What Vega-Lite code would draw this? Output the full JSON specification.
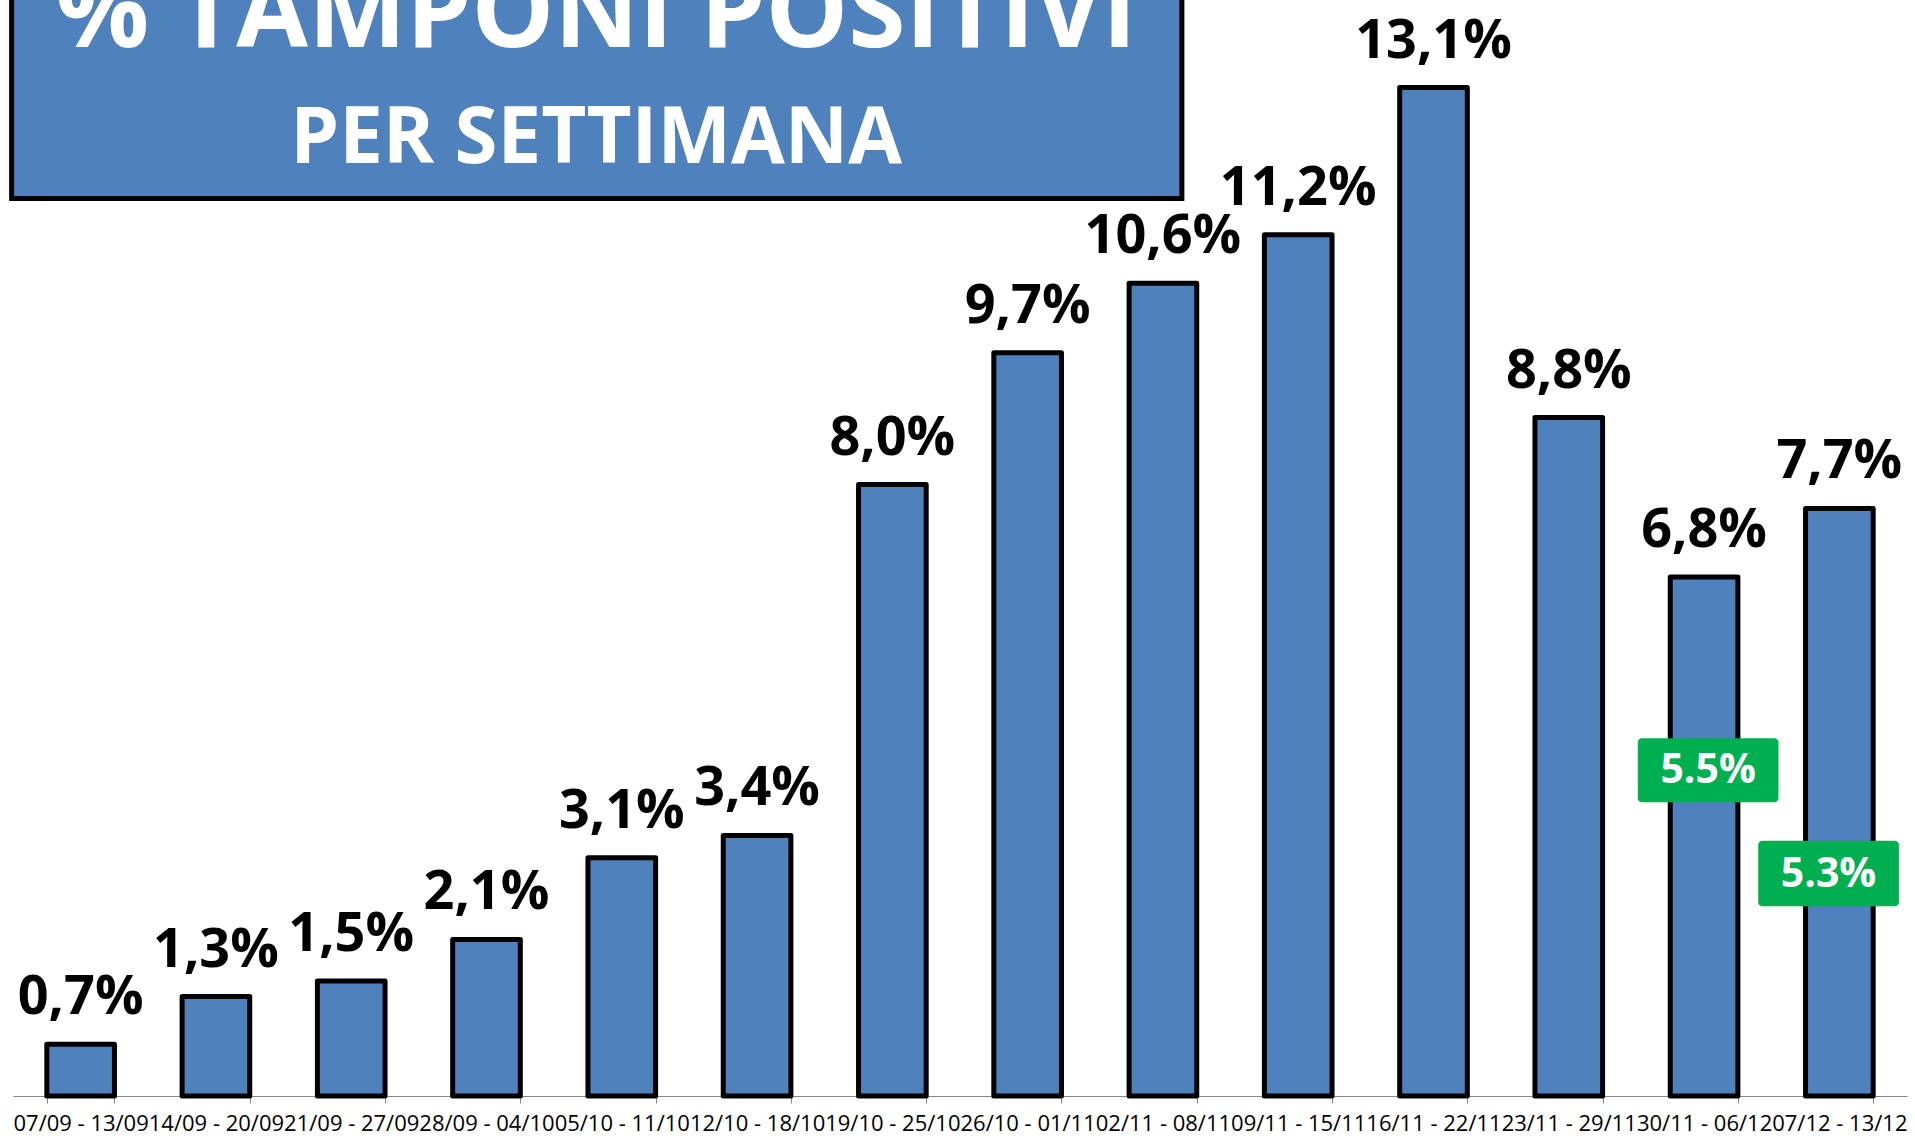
{
  "$schema": "https://vega.github.io/schema/vega-lite/v6.json",
  "autosize": {"type": "none"},
  "padding": {"left": 13, "top": 0, "right": 8, "bottom": 45},
  "width": 1894,
  "height": 1096,
  "background": "white",
  "config": {"view": {"stroke": null}, "font": "Open Sans"},
  "data": {
    "values": [
      {"week": "07/09 - 13/09", "value": 0.67, "label": "0,7%"},
      {"week": "14/09 - 20/09", "value": 1.29, "label": "1,3%"},
      {"week": "21/09 - 27/09", "value": 1.49, "label": "1,5%"},
      {"week": "28/09 - 04/10", "value": 2.03, "label": "2,1%"},
      {"week": "05/10 - 11/10", "value": 3.09, "label": "3,1%"},
      {"week": "12/10 - 18/10", "value": 3.38, "label": "3,4%"},
      {"week": "19/10 - 25/10", "value": 7.93, "label": "8,0%"},
      {"week": "26/10 - 01/11", "value": 9.64, "label": "9,7%"},
      {"week": "02/11 - 08/11", "value": 10.54, "label": "10,6%"},
      {"week": "09/11 - 15/11", "value": 11.17, "label": "11,2%"},
      {"week": "16/11 - 22/11", "value": 13.08, "label": "13,1%"},
      {"week": "23/11 - 29/11", "value": 8.8, "label": "8,8%"},
      {"week": "30/11 - 06/12", "value": 6.73, "label": "6,8%"},
      {"week": "07/12 - 13/12", "value": 7.62, "label": "7,7%"}
    ]
  },
  "layer": [
    {
      "layer": [
        {
          "mark": {"type": "bar", "fill": "#4F81BD", "stroke": "#000000", "strokeWidth": 5, "strokeJoin": "round"},
          "encoding": {
            "x": {
              "field": "week", "type": "nominal", "sort": null,
              "scale": {"paddingInner": 0.5, "paddingOuter": 0.25},
              "axis": {"title": null, "labelAngle": 0, "labelFont": "Open Sans", "labelFontSize": 22, "labelColor": "#000000", "labelPadding": 10, "tickSize": 7, "tickColor": "#868686", "domainColor": "#868686", "tickBand": "extent", "labelOverlap": false}
            },
            "y": {
              "field": "value", "type": "quantitative",
              "scale": {"domain": [0, 14.215], "nice": false},
              "axis": {"title": null, "labels": false, "ticks": false, "grid": false, "domainColor": "#868686"}
            }
          }
        },
        {
          "mark": {"type": "text", "font": "Open Sans", "fontSize": 54, "fontWeight": "bold", "dy": -30, "baseline": "alphabetic", "align": "center", "color": "#000000"},
          "encoding": {
            "x": {"field": "week", "type": "nominal", "sort": null},
            "y": {"field": "value", "type": "quantitative"},
            "text": {"field": "label"}
          }
        }
      ]
    },
    {
      "data": {"values": [{}]},
      "layer": [
        {
          "mark": {"type": "rect", "fill": "#4F81BD", "stroke": "#000000", "strokeWidth": 5},
          "encoding": {
            "x": {"datum": -0.01, "type": "quantitative", "scale": {"domain": [0, 14]}, "axis": null},
            "x2": {"datum": 8.64},
            "y": {"datum": 11.64, "type": "quantitative", "scale": {"domain": [0, 14.215]}, "axis": null},
            "y2": {"datum": 15}
          }
        },
        {
          "mark": {"type": "text", "text": "% TAMPONI POSITIVI", "font": "Open Sans", "fontSize": 104, "fontWeight": "bold", "color": "#FFFFFF", "align": "center", "baseline": "alphabetic"},
          "encoding": {
            "x": {"datum": 4.31, "type": "quantitative", "scale": {"domain": [0, 14]}, "axis": null},
            "y": {"datum": 13.6, "type": "quantitative", "scale": {"domain": [0, 14.215]}, "axis": null}
          }
        },
        {
          "mark": {"type": "text", "text": "PER SETTIMANA", "font": "Open Sans", "fontSize": 78, "fontWeight": "bold", "color": "#FFFFFF", "align": "center", "baseline": "alphabetic"},
          "encoding": {
            "x": {"datum": 4.31, "type": "quantitative", "scale": {"domain": [0, 14]}, "axis": null},
            "y": {"datum": 12.1, "type": "quantitative", "scale": {"domain": [0, 14.215]}, "axis": null}
          }
        },
        {
          "mark": {"type": "rect", "fill": "#00B050", "cornerRadius": 4},
          "encoding": {
            "x": {"datum": 12.01, "type": "quantitative", "scale": {"domain": [0, 14]}, "axis": null},
            "x2": {"datum": 13.05},
            "y": {"datum": 3.81, "type": "quantitative", "scale": {"domain": [0, 14.215]}, "axis": null},
            "y2": {"datum": 4.64}
          }
        },
        {
          "mark": {"type": "text", "text": "5.5%", "font": "Open Sans", "fontSize": 41, "fontWeight": "bold", "color": "#FFFFFF", "align": "center", "baseline": "middle"},
          "encoding": {
            "x": {"datum": 12.53, "type": "quantitative", "scale": {"domain": [0, 14]}, "axis": null},
            "y": {"datum": 4.22, "type": "quantitative", "scale": {"domain": [0, 14.215]}, "axis": null}
          }
        },
        {
          "mark": {"type": "rect", "fill": "#00B050", "cornerRadius": 4},
          "encoding": {
            "x": {"datum": 12.9, "type": "quantitative", "scale": {"domain": [0, 14]}, "axis": null},
            "x2": {"datum": 13.94},
            "y": {"datum": 2.46, "type": "quantitative", "scale": {"domain": [0, 14.215]}, "axis": null},
            "y2": {"datum": 3.31}
          }
        },
        {
          "mark": {"type": "text", "text": "5.3%", "font": "Open Sans", "fontSize": 41, "fontWeight": "bold", "color": "#FFFFFF", "align": "center", "baseline": "middle"},
          "encoding": {
            "x": {"datum": 13.42, "type": "quantitative", "scale": {"domain": [0, 14]}, "axis": null},
            "y": {"datum": 2.87, "type": "quantitative", "scale": {"domain": [0, 14.215]}, "axis": null}
          }
        }
      ]
    }
  ],
  "resolve": {"scale": {"x": "independent"}}
}
